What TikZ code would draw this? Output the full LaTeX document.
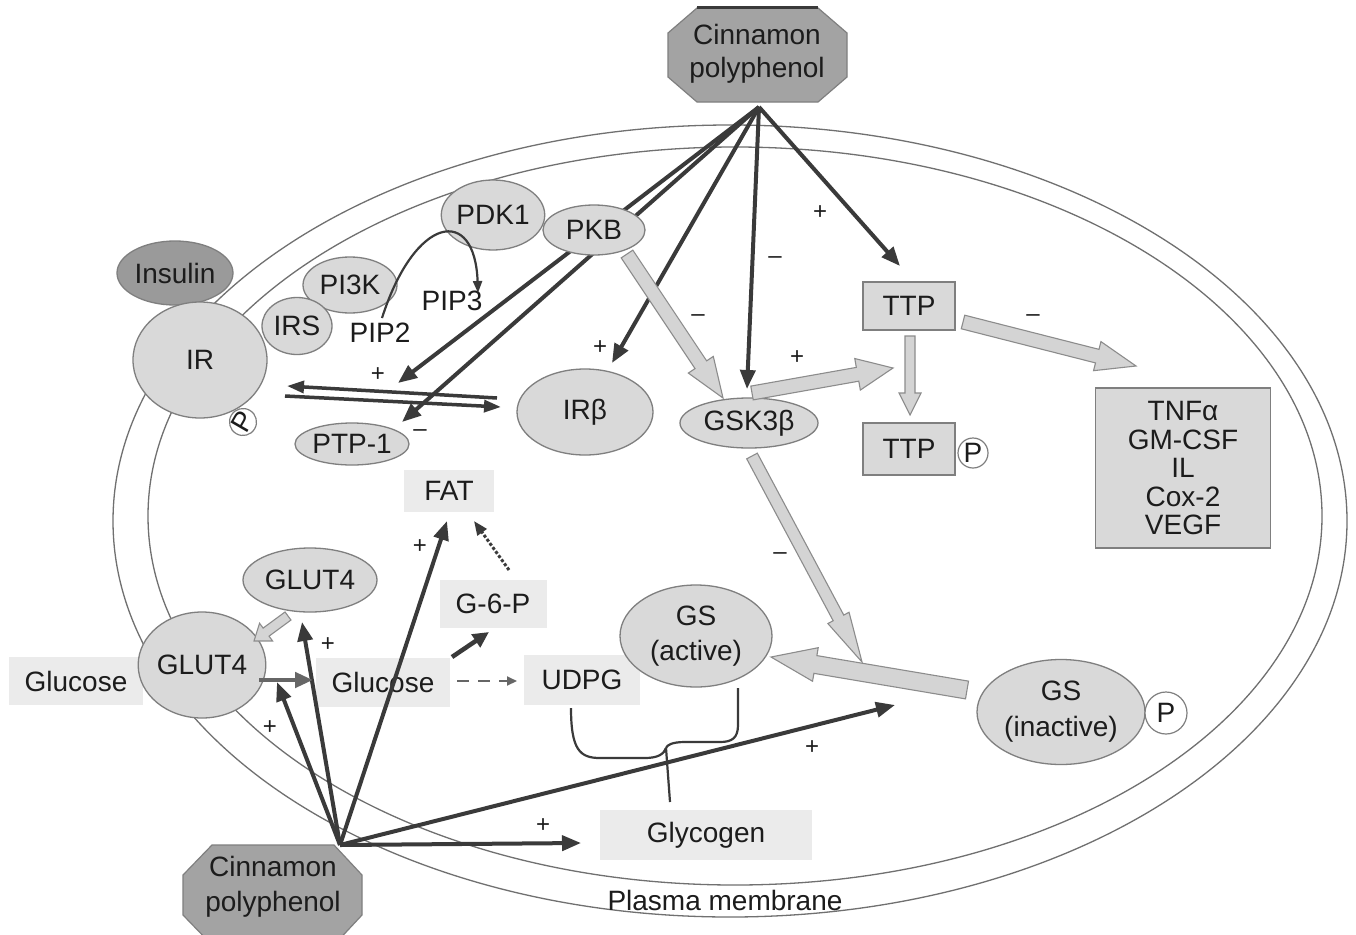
\documentclass[tikz,border=0pt]{standalone}
\usepackage{fontspec}
\setmainfont{Liberation Sans}
\usetikzlibrary{shapes.geometric,arrows.meta,calc}
\definecolor{nodefill}{HTML}{D9D9D9}
\definecolor{nodeline}{HTML}{7F7F7F}
\definecolor{boxfill}{HTML}{EBEBEB}
\definecolor{darkarr}{HTML}{3A3A3A}
\definecolor{medarr}{HTML}{666666}
\definecolor{blkfill}{HTML}{D4D4D4}
\definecolor{blkline}{HTML}{8C8C8C}
\definecolor{cinfill}{HTML}{A3A3A3}
\definecolor{insfill}{HTML}{9A9A9A}
\definecolor{memline}{HTML}{707070}
\definecolor{txt}{HTML}{1C1C1C}
\newcommand\blkarrow[5]{%
  \coordinate (ba-h) at ($(#2)!#5pt!(#1)$);
  \filldraw[blockarrow] ($(#1)!#3pt!90:(#2)$) -- ($(ba-h)!#3pt!-90:(#1)$) -- ($(ba-h)!#4pt!-90:(#1)$) -- (#2) -- ($(ba-h)!#4pt!90:(#1)$) -- ($(ba-h)!#3pt!90:(#1)$) -- ($(#1)!#3pt!-90:(#2)$) -- cycle;}
\tikzset{
  every node/.style={font=\fontsize{28}{33}\selectfont, text=txt},
  ell/.style={ellipse, draw=nodeline, fill=nodefill, line width=1.3pt, inner sep=0pt},
  gbox/.style={rectangle, fill=boxfill, inner sep=0pt},
  tbox/.style={rectangle, draw=nodeline, fill=nodefill, line width=1.3pt, inner sep=0pt},
  pcirc/.style={circle, draw=nodeline, fill=white, line width=1.2pt, inner sep=0pt},
  darr/.style={draw=darkarr, line width=4pt, -{Triangle[length=19pt,width=15pt]}},
  sign/.style={font=\fontsize{24}{26}\selectfont, inner sep=0pt},
  blockarrow/.style={fill=blkfill, draw=blkline, line width=1.1pt, line join=miter},
  membrane/.style={draw=memline, line width=1.3pt},
  cin/.style={fill=cinfill, draw=nodeline, line width=1.2pt},
}
\begin{document}
\begin{tikzpicture}[x=1pt,y=-1pt]
\useasboundingbox (0,0) rectangle (1356,934);
\clip (0,0) rectangle (1356,934);
\fill[white] (0,0) rectangle (1356,934);
% membrane
\draw[membrane] (730,521) ellipse [x radius=617pt, y radius=396pt];
\draw[membrane] (735,516) ellipse [x radius=587pt, y radius=369pt];
\node (pm) at (725,900) {Plasma membrane};
% cinnamon top
\filldraw[cin] (697,8) -- (818,8) -- (847,33) -- (847,77) -- (818,102) -- (697,102) -- (668,77) -- (668,33) -- cycle;
\draw[darkarr, line width=3pt] (697,8) -- (818,8);
\node[align=center] (cin1) at (757,54) {Cinnamon\\polyphenol};
% cinnamon bottom
\filldraw[cin] (212,845) -- (334,845) -- (362,875) -- (362,915) -- (334,945) -- (212,945) -- (183,915) -- (183,875) -- cycle;
\node[align=center, font=\fontsize{28}{35}\selectfont] (cin2) at (273,887) {Cinnamon\\polyphenol};
% coordinates
\coordinate (tapex) at (759,107);
\coordinate (bapex) at (340,845);
\coordinate (irplus) at (398,383);
\coordinate (ptpin) at (402,422);
\coordinate (irbin) at (612,363);
\coordinate (gskin) at (747,389);
\coordinate (ttpin) at (900,266);
% dark arrows from top (PKB lies over them)
\draw[darr] (tapex) -- (irplus);
\draw[darr] (tapex) -- (ptpin);
\draw[darr] (tapex) -- (irbin);
\draw[darr] (tapex) -- (gskin);
\draw[darr] (tapex) -- (ttpin);
% receptor complex
\node[ell, fill=insfill, minimum width=116pt, minimum height=64pt] (insulin) at (175,273) {Insulin};
\node[ell, minimum width=94pt, minimum height=56pt] (pi3k) at (350,285) {PI3K};
\node[ell, minimum width=70pt, minimum height=57pt] (irs) at (297,326) {IRS};
\node[ell, minimum width=134pt, minimum height=116pt] (ir) at (200,360) {IR};
\node[pcirc, minimum size=27pt, rotate=60] (irp) at (243,422) {P};
\node[ell, minimum width=96pt, minimum height=70pt] (pdk1) at (493,215) {PDK1};
\node[ell, minimum width=102pt, minimum height=50pt] (pkb) at (594,230) {PKB};
\node (pip3) at (452,301) {PIP3};
\node (pip2) at (380,333) {PIP2};
\node[ell, minimum width=136pt, minimum height=86pt] (irb) at (585,412) {IRβ};
\node[ell, minimum width=114pt, minimum height=42pt] (ptp) at (352,444) {PTP-1};
\node[ell, minimum width=138pt, minimum height=50pt] (gsk) at (749,423) {GSK3β};
% TTP
\node[tbox, minimum width=92pt, minimum height=48pt] (ttp1) at (909,306) {TTP};
\node[tbox, minimum width=92pt, minimum height=52pt] (ttp2) at (909,449) {TTP};
\node[pcirc, minimum size=30pt] (ttpp) at (973,453) {P};
\node[tbox, minimum width=175pt, minimum height=160pt, align=center, font=\fontsize{28}{28.5}\selectfont] (tnf) at (1183,468) {TNFα\\GM-CSF\\IL\\Cox-2\\VEGF};
% glucose metabolism
\node[gbox, minimum width=90pt, minimum height=42pt] (fat) at (449,491) {FAT};
\node[gbox, minimum width=107pt, minimum height=48pt] (g6p) at (493,604) {G-6-P};
\node[gbox, minimum width=134pt, minimum height=48pt] (gluout) at (76,681) {Glucose};
\node[gbox, minimum width=134pt, minimum height=49pt] (gluin) at (383,682) {Glucose};
\node[gbox, minimum width=116pt, minimum height=50pt] (udpg) at (582,680) {UDPG};
\node[gbox, minimum width=212pt, minimum height=50pt] (glyc) at (706,835) {Glycogen};
\node[ell, minimum width=114pt, minimum height=106pt] (glutc) at (202,665) {GLUT4};
\node[ell, minimum width=134pt, minimum height=64pt] (glute) at (310,580) {GLUT4};
\node[ell, minimum width=152pt, minimum height=102pt, align=center, font=\fontsize{28}{35}\selectfont] (gsa) at (696,636) {GS\\(active)};
\node[ell, minimum width=168pt, minimum height=105pt, align=center, font=\fontsize{28}{36}\selectfont] (gsi) at (1061,712) {GS\\(inactive)};
\node[pcirc, minimum size=42pt] (gsp) at (1166,713) {P};
% more coordinates
\coordinate (glyin) at (581,843);
\coordinate (gsj) at (895,705);
\coordinate (fatin) at (447,521);
\coordinate (glutein) at (302,622);
\coordinate (glutcin) at (277,682);
\coordinate (dblA1) at (497,398);
\coordinate (dblA2) at (287,386);
\coordinate (dblB1) at (285,396);
\coordinate (dblB2) at (501,407);
\coordinate (pkbout) at (627,254);
\coordinate (gsktop) at (723,398);
\coordinate (gskr) at (752,393);
\coordinate (ttpl) at (893,368);
\coordinate (ttpb) at (910,336);
\coordinate (ttp2t) at (910,415);
\coordinate (ttpr) at (963,322);
\coordinate (tnfin) at (1136,366);
\coordinate (gskb) at (752,456);
\coordinate (gsjn) at (862,662);
\coordinate (gsinl) at (967,690);
\coordinate (gsactr) at (771,657);
\coordinate (glutel) at (288,616);
\coordinate (glutcr) at (254,641);
\coordinate (glutcout) at (259,680);
\coordinate (glucinl) at (313,680);
\coordinate (gluinr) at (452,657);
\coordinate (g6pin) at (489,632);
\coordinate (g6ptop) at (509,570);
\coordinate (fatb) at (474,521);
\coordinate (gluinr2) at (457,681);
\coordinate (udpgl) at (517,681);
\coordinate (pip2top) at (382,318);
\coordinate (pip3top) at (478,293);
% block arrows
\blkarrow{pkbout}{gsktop}{7}{15}{40}
\blkarrow{gskr}{ttpl}{7}{16}{36}
\blkarrow{ttpb}{ttp2t}{5}{11}{22}
\blkarrow{ttpr}{tnfin}{7}{15}{40}
\blkarrow{gskb}{gsjn}{6}{12}{50}
\blkarrow{gsinl}{gsactr}{9}{17}{45}
\blkarrow{glutel}{glutcr}{5}{11}{15}
% dark arrows from bottom
\draw[darr] (bapex) -- (glyin);
\draw[darr] (bapex) -- (gsj);
\draw[darr] (bapex) -- (fatin);
\draw[darr] (bapex) -- (glutein);
\draw[darr] (bapex) -- (glutcin);
% IR / IRbeta double arrow
\draw[darr, line width=3.5pt, -{Triangle[length=17pt,width=12pt]}] (dblA1) -- (dblA2);
\draw[darr, line width=3.5pt, -{Triangle[length=17pt,width=12pt]}] (dblB1) -- (dblB2);
% PIP2 -> PIP3
\draw[darkarr, line width=2.2pt, -{Triangle[length=12pt,width=9pt]}] (pip2top) .. controls (415,215) and (475,205) .. (pip3top);
% glucose arrows
\draw[draw=medarr, line width=4.5pt, -{Triangle[length=18pt,width=15pt]}] (glutcout) -- (glucinl);
\draw[darr, line width=4.5pt, -{Triangle[length=16pt,width=15pt]}] (gluinr) -- (g6pin);
\draw[darkarr, line width=3pt, dotted, -{Triangle[length=14pt,width=11pt]}] (g6ptop) -- (fatb);
\draw[draw=medarr, line width=2pt, dash pattern=on 12pt off 9pt, -{Triangle[length=10pt,width=9pt]}] (gluinr2) -- (udpgl);
% brace to glycogen
\coordinate (udpgb) at (571,708);
\coordinate (gsab) at (738,688);
\coordinate (bj) at (666,748);
\coordinate (glyt) at (670,802);
\draw[darkarr, line width=2.2pt] (udpgb) .. controls (571,750) and (580,758) .. (600,758) -- (645,758) .. controls (658,758) and (664,754) .. (bj);
\draw[darkarr, line width=2.2pt] (gsab) -- (738,725) .. controls (738,738) and (732,742) .. (720,742) -- (685,742) .. controls (672,742) and (667,745) .. (bj);
\draw[darkarr, line width=2.2pt] (bj) -- (glyt);
% signs
\node[sign] (s1) at (378,375) {+};
\node[sign] (s2) at (420,433) {–};
\node[sign] (s3) at (600,348) {+};
\node[sign] (s4) at (698,318) {–};
\node[sign] (s5) at (775,260) {–};
\node[sign] (s6) at (820,213) {+};
\node[sign] (s7) at (797,358) {+};
\node[sign] (s8) at (1033,318) {–};
\node[sign] (s9) at (780,556) {–};
\node[sign] (s10) at (812,748) {+};
\node[sign] (s11) at (543,826) {+};
\node[sign] (s12) at (420,547) {+};
\node[sign] (s13) at (328,645) {+};
\node[sign] (s14) at (270,728) {+};
\end{tikzpicture}
\end{document}
